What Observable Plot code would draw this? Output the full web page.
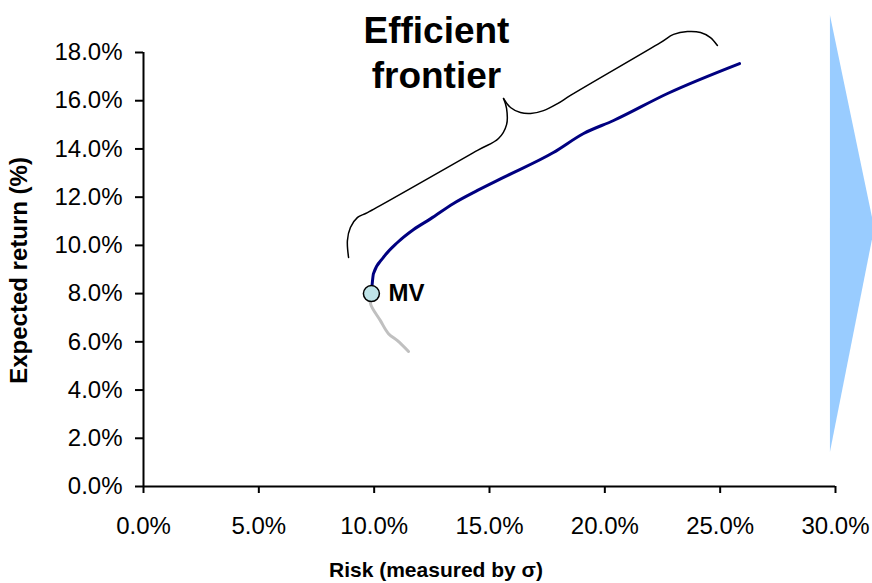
<!DOCTYPE html>
<html><head><meta charset="utf-8">
<script src="https://cdn.jsdelivr.net/npm/d3@7"></script>
<script src="https://cdn.jsdelivr.net/npm/@observablehq/plot@0.6"></script>
<style>body{margin:0;background:#fff;} svg{display:block;}</style>
</head><body><div id="chart"></div>
<script>
// Efficient frontier (risk %, expected return %)
const frontierRisk   = [9.88, 9.97, 10.40, 11.01, 11.71, 12.44, 13.44, 14.48, 15.61, 17.77, 19.08, 20.38, 22.72, 25.84];
const frontierReturn = [8.00, 8.83, 9.50, 10.12, 10.66, 11.10, 11.74, 12.28, 12.82, 13.85, 14.64, 15.18, 16.30, 17.54];
// Inefficient lower branch
const lowerRisk   = [9.88, 9.84, 10.27, 10.62, 11.01, 11.49];
const lowerReturn = [8.00, 7.59, 6.88, 6.34, 6.05, 5.60];
// Minimum-variance portfolio
const mvLabel = ["MV"];
const mvRisk = [9.88];
const mvReturn = [8.0];
// Curly brace annotation
const braceLeftRisk    = [8.89, 8.84, 8.97, 9.28, 9.71, 14.48, 15.39, 15.74, 15.74, 15.61];
const braceLeftReturn  = [9.50, 10.20, 10.74, 11.16, 11.36, 13.94, 14.43, 15.01, 15.68, 16.09];
const braceRightRisk   = [15.61, 15.91, 16.34, 16.78, 17.34, 17.95, 18.51, 22.41, 22.98, 23.58, 24.15, 24.58, 24.88];
const braceRightReturn = [16.09, 15.72, 15.51, 15.47, 15.59, 15.88, 16.22, 18.41, 18.75, 18.87, 18.83, 18.62, 18.29];
const annotationText = ["Efficient\nfrontier"];
const annotationRisk = [12.7];
const annotationReturn = [18.07];
// Blue arrow at right
const arrowReturn = [1.41, 10.7, 19.53];
const arrowRiskLeft = [29.78, 29.78, 29.78];
const arrowRiskRight = [29.78, 31.7, 29.78];
// Axes
const xTicks = [0, 5, 10, 15, 20, 25, 30];
const yTicks = [0, 2, 4, 6, 8, 10, 12, 14, 16, 18];
const xTitle = "Risk (measured by σ)";
const yTitle = "Expected return (%)";

const zip = (a, b) => a.map((v, i) => ({x: v, y: b[i]}));
const frontier = zip(frontierRisk, frontierReturn);
const lower = zip(lowerRisk, lowerReturn);
const braceL = zip(braceLeftRisk, braceLeftReturn);
const braceR = zip(braceRightRisk, braceRightReturn);
const mv = mvLabel.map((t, i) => ({t, x: mvRisk[i], y: mvReturn[i]}));
const ann = annotationText.map((t, i) => ({t, x: annotationRisk[i], y: annotationReturn[i]}));
const arrow = arrowReturn.map((y, i) => ({y, x1: arrowRiskLeft[i], x2: arrowRiskRight[i]}));
const fmt = d => d.toFixed(1) + "%";

const plot = Plot.plot({
  width: 872, height: 583,
  marginLeft: 143, marginRight: 37, marginTop: 52, marginBottom: 97,
  style: {fontFamily: "'Liberation Sans', Arial, sans-serif", color: "black", background: "white", overflow: "visible"},
  x: {domain: [0, 30]},
  y: {domain: [0, 18]},
  marks: [
    Plot.areaX(arrow, {y: "y", x1: "x1", x2: "x2", fill: "#99CCFF"}),
    Plot.ruleX([0], {y1: 0, y2: 18, stroke: "black", strokeWidth: 2}),
    Plot.ruleY([0], {x1: 0, x2: 30, stroke: "black", strokeWidth: 2}),
    Plot.axisX({ticks: xTicks, tickSize: 7, tickPadding: 23, tickFormat: fmt, fontSize: 24, strokeWidth: 2, label: null}),
    Plot.axisY({ticks: yTicks, tickSize: 8, tickPadding: 13, tickFormat: fmt, fontSize: 24, strokeWidth: 2, label: null}),
    Plot.text([xTitle], {x: 12.68, y: 0, dy: 84, text: d => d, fontSize: 21, fontWeight: "bold"}),
    Plot.text([yTitle], {x: 0, y: 8.96, dx: -124, rotate: -90, text: d => d, fontSize: 24, fontWeight: "bold"}),
    Plot.line(lower, {x: "x", y: "y", stroke: "#C0C0C0", strokeWidth: 3, curve: "catmull-rom"}),
    Plot.line(frontier, {x: "x", y: "y", stroke: "#000080", strokeWidth: 3, curve: "monotone-x"}),
    Plot.line(braceL, {x: "x", y: "y", stroke: "black", strokeWidth: 1.5, curve: "catmull-rom"}),
    Plot.line(braceR, {x: "x", y: "y", stroke: "black", strokeWidth: 1.5, curve: "catmull-rom"}),
    Plot.dot(mv, {x: "x", y: "y", r: 8, fill: "#BFE4E8", stroke: "black", strokeWidth: 1.5}),
    Plot.text(mv, {x: "x", y: "y", text: "t", dx: 17, textAnchor: "start", fontSize: 24, fontWeight: "bold"}),
    Plot.text(ann, {x: "x", y: "y", text: "t", fontSize: 37, fontWeight: "bold", lineHeight: 1.24})
  ]
});
document.getElementById("chart").appendChild(plot);
</script>
</body></html>
